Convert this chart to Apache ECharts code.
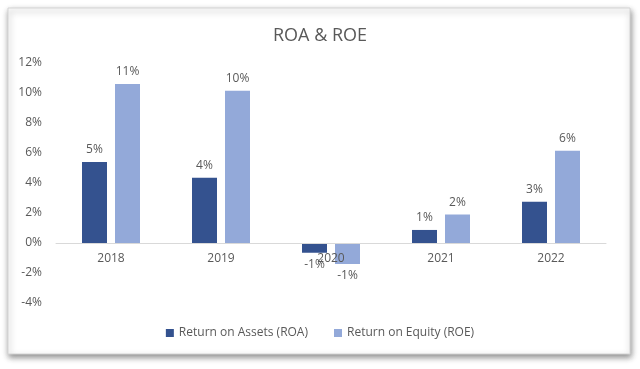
<!DOCTYPE html>
<html>
<head>
<meta charset="utf-8">
<script src="https://cdn.jsdelivr.net/npm/echarts@6/dist/echarts.min.js"></script>
<style>
  html, body { margin: 0; padding: 0; background: #fff; }
  #chart { width: 640px; height: 369px; }
</style>
</head>
<body>
<div id="chart"></div>
<script>
var years = ['2018', '2019', '2020', '2021', '2022'];
var roa = [5.4, 4.35, -0.65, 0.87, 2.75];
var roe = [10.6, 10.15, -1.4, 1.9, 6.15];

var textColor = '#595959';

// negative bars get their label underneath
function withLabels(values) {
	return values.map(function (v) {
		return { value: v, label: { position: v < 0 ? 'bottom' : 'top' } };
	});
}

function pct(p) {
	return Math.round(p.value) + '%';
}

var myChart = echarts.init(document.getElementById('chart'));

myChart.setOption({
	animation: false,
	textStyle: { fontFamily: 'Open Sans' },
	graphic: [
		{
			type: 'rect',
			z: -10,
			shape: { x: 8, y: 8, width: 622, height: 346 },
			style: {
				fill: '#fff',
				stroke: '#d4d4d4',
				lineWidth: 1,
				shadowBlur: 6,
				shadowOffsetX: 1,
				shadowOffsetY: 3,
				shadowColor: 'rgba(0,0,0,0.45)'
			}
		}
	],
	title: {
		text: 'ROA & ROE',
		left: 'center',
		top: 22,
		textStyle: { color: textColor, fontSize: 18, fontWeight: 'normal', fontFamily: 'Open Sans' }
	},
	legend: {
		bottom: 25,
		left: 'center',
		itemWidth: 8,
		itemHeight: 8,
		itemGap: 26,
		icon: 'rect',
		textStyle: { color: textColor, fontSize: 12 },
		data: ['Return on Assets (ROA)', 'Return on Equity (ROE)']
	},
	grid: { left: 56, right: 34, top: 63, bottom: 66 },
	xAxis: {
		type: 'category',
		data: years,
		z: 5,
		// axis sits on the 0% line (60px above the grid bottom)
		offset: -60,
		axisLine: { onZero: false, lineStyle: { color: '#d9d9d9' } },
		axisTick: { show: false },
		axisLabel: { color: textColor, fontSize: 12, margin: 10 }
	},
	yAxis: {
		type: 'value',
		min: -4,
		max: 12,
		interval: 2,
		splitLine: { show: false },
		axisLine: { show: false },
		axisTick: { show: false },
		axisLabel: { color: textColor, fontSize: 12, formatter: '{value}%', margin: 14 }
	},
	series: [
		{
			name: 'Return on Assets (ROA)',
			type: 'bar',
			barWidth: 25,
			barGap: '32%',
			itemStyle: { color: '#34528f' },
			label: { show: true, color: textColor, fontSize: 12, distance: 6, formatter: pct },
			data: withLabels(roa)
		},
		{
			name: 'Return on Equity (ROE)',
			type: 'bar',
			barWidth: 25,
			itemStyle: { color: '#93a9d9' },
			label: { show: true, color: textColor, fontSize: 12, distance: 6, formatter: pct },
			data: withLabels(roe)
		}
	]
});
</script>
</body>
</html>
